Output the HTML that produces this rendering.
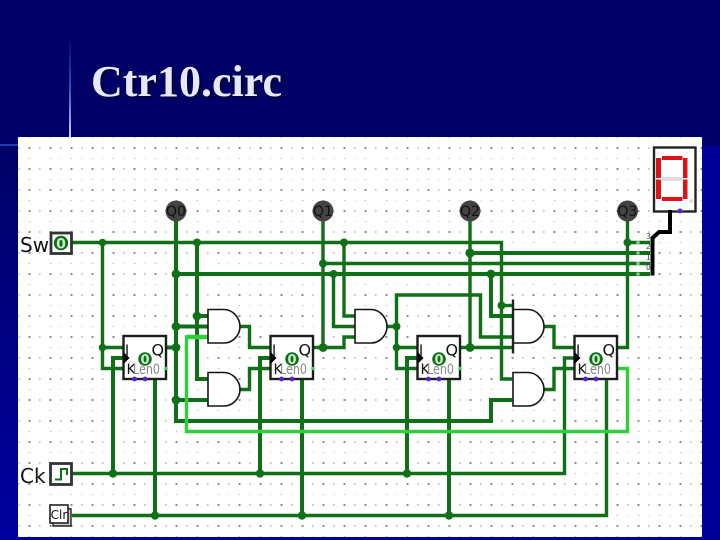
<!DOCTYPE html>
<html><head><meta charset="utf-8"><style>
html,body{margin:0;padding:0;width:720px;height:540px;overflow:hidden;background:#000066}
svg{display:block}
</style></head><body>
<svg width="720" height="540" viewBox="0 0 720 540" xmlns="http://www.w3.org/2000/svg">
<defs>
<linearGradient id="bg" x1="0" y1="0" x2="0" y2="1"><stop offset="0" stop-color="#000066"/><stop offset=".3" stop-color="#000068"/><stop offset="1" stop-color="#0000a0"/></linearGradient>
<linearGradient id="gv" x1="0" y1="0" x2="0" y2="1"><stop offset="0" stop-color="#000066"/><stop offset=".5" stop-color="#2a4cc0"/><stop offset="1" stop-color="#c8d4f4"/></linearGradient>
<pattern id="grid" x="18.5" y="137" width="21" height="21" patternUnits="userSpaceOnUse">
<rect x="10" y="10" width="2" height="2" fill="#8c8c8c"/>
<rect x="0" y="10.2" width="1" height="1.6" fill="#b8b8b8"/>
<rect x="20.500" y="10.2" width=".5" height="1.6" fill="#b8b8b8"/>
<rect x="10.2" y="0" width="1.6" height="1" fill="#bcbcbc"/>
<rect x="0" y="0" width="1" height="1" fill="#d4d4d4"/>
</pattern>
<filter id="sh" x="-10%" y="-20%" width="120%" height="150%"><feGaussianBlur stdDeviation="1.2"/></filter>
<g id="ff">
<rect x="0" y="0" width="42.5" height="43" fill="#fff" stroke="#1c1c1c" stroke-width="2.4"/>
<path d="M0 17L5 22L0 27" fill="#000" stroke="#000" stroke-width="1.5"/>
</g>
</defs>
<rect width="720" height="540" fill="url(#bg)"/>
<rect x="702" y="146" width="18" height="394" fill="#000098"/>
<rect x="69" y="35" width="2" height="102" fill="url(#gv)"/>
<rect x="0" y="144" width="18" height="2" fill="#1c3cb0"/>
<text x="93" y="98" font-family="'Liberation Serif',serif" font-weight="700" font-size="44" fill="#000030" filter="url(#sh)">Ctr10.circ</text>
<text x="91" y="96" font-family="'Liberation Serif',serif" font-weight="700" font-size="44" fill="#e8e8f4">Ctr10.circ</text>

<rect x="18" y="137" width="684" height="400" fill="#fff"/>
<rect x="18" y="137" width="684" height="400" fill="url(#grid)"/>

<!-- wires -->
<g fill="none" stroke="#107018" stroke-width="3.4" stroke-linejoin="miter">
<path d="M72 242.5H501.5V379H512"/>
<path d="M102.5 242.5V368.5H123.5M102.5 347.5H123.5"/>
<path d="M323 263.5H650"/>
<path d="M470 253H650" stroke-width="4"/>
<path d="M176 274H650" stroke-width="4"/>
<path d="M627.5 242.5H650"/>
<path d="M176 221V421H491V400H512" stroke-width="4"/>
<path d="M176 326.5H207.5M176 400H207.5M166 347.5H176" stroke-width="4"/>
<path d="M197 242.5V379H207.5M197 316H207.5" stroke-width="4"/>
<path d="M240 326.5H249.5V347.5H270.5"/>
<path d="M240 389.5H249.5V368.5H270.5"/>
<path d="M323 221V347.5H313M323 347.5H344V337H354.5"/>
<path d="M344 242.5V316H354.5"/>
<path d="M333.5 274V326.5H354.5"/>
<path d="M386 326.5H396.5V368.5H417.5M396.5 347.5H417.5"/>
<path d="M396.5 326.5V295H480.5V337H512"/>
<path d="M470 221V347.5H512M460 347.5H470"/>
<path d="M491 274V316H512" stroke-width="4"/>
<path d="M501.5 305.5H512"/>
<path d="M543.5 326.5H554V347.5H575"/>
<path d="M543.5 389.5H554V368.5H575"/>
<path d="M627.5 221V347.5H617"/>
<path d="M72 473.5H564.5V358H578"/>
<path d="M113 473.5V358H128" stroke-width="4"/>
<path d="M260 473.5V358H275" stroke-width="4"/>
<path d="M407 473.5V358H422" stroke-width="4"/>
<path d="M72 515.5H606.5V379"/>
<path d="M155 515.5V379" stroke-width="4"/>
<path d="M302 515.5V379" stroke-width="4"/>
<path d="M449 515.5V379" stroke-width="4"/>
</g>
<path d="M207.5 337H186.5V431.5H627.5V368.5H617" fill="none" stroke="#2fcf3c" stroke-width="3.4"/>
<path d="M186.5 337H207.5" fill="none" stroke="#2fcf3c" stroke-width="4.4"/>

<!-- junctions -->
<g fill="#107018">
<circle cx="102.5" cy="242.5" r="3.8"/><circle cx="197" cy="242.5" r="4"/><circle cx="344" cy="242.5" r="4"/><circle cx="627.5" cy="242.5" r="4"/>
<circle cx="470" cy="253" r="4.6"/><circle cx="323" cy="263.5" r="4"/><circle cx="176" cy="274" r="4.4"/><circle cx="333.5" cy="274" r="4"/><circle cx="491" cy="274" r="4.4"/>
<circle cx="501.5" cy="305.5" r="4"/><circle cx="197" cy="316" r="4.4"/><circle cx="176" cy="326.5" r="4.4"/><circle cx="396.5" cy="326.5" r="4"/>
<circle cx="102.5" cy="347.5" r="3.8"/><circle cx="176" cy="347.5" r="4.4"/><circle cx="323" cy="347.5" r="4.4"/><circle cx="396.5" cy="347.5" r="3.8"/><circle cx="470" cy="347.5" r="4.4"/>
<circle cx="176" cy="400" r="4.4"/>
<circle cx="113" cy="473.5" r="4.2"/><circle cx="260" cy="473.5" r="4.2"/><circle cx="407" cy="473.5" r="4.2"/>
<circle cx="155" cy="515.5" r="4.2"/><circle cx="302" cy="515.5" r="4.2"/><circle cx="449" cy="515.5" r="4.2"/>
</g>
<g fill="#7fcf86">
<circle cx="638" cy="242.500" r="1.800"/><circle cx="638" cy="253" r="1.800"/><circle cx="638" cy="263.500" r="1.800"/><circle cx="638" cy="274" r="1.800"/>
</g>

<!-- AND gates -->
<g fill="#fff" stroke="#151515" stroke-width="1.6">
<path d="M208 309.5H224C233 309.5 240 318 240 326.5C240 335 233 343 224 343H208Z"/>
<path d="M208 372.5H224C233 372.5 240 381 240 389.5C240 398 233 406 224 406H208Z"/>
<path d="M355 309.5H371C380 309.5 387 318 387 326.5C387 335 380 343 371 343H355Z"/>
<path d="M513 309.5H528C537 309.5 544 318 544 326.5C544 335 537 343 528 343H513Z"/>
<path d="M513 372.5H528C537 372.5 544 381 544 389.5C544 398 537 406 528 406H513Z"/>
</g>
<path d="M513 299.5V353.5" stroke="#222" stroke-width="2.4"/>

<!-- Flip flops -->
<g font-family="'DejaVu Sans','Liberation Sans',sans-serif">
<g transform="translate(123.5,336)"><use href="#ff"/><text x="1.500" y="19" font-size="14" fill="#111">J</text><text x="28" y="19.500" font-size="16" fill="#111">Q</text><text x="3" y="38" font-size="14" fill="#111">K</text><text x="9.500" y="38" font-size="14.500" fill="#888" textLength="27" lengthAdjust="spacingAndGlyphs">Len0</text><circle cx="21.500" cy="23" r="6.800" fill="#107018"/><text x="21.500" y="28" font-size="13" font-weight="700" text-anchor="middle" fill="#c8ecc8">0</text><circle cx="11" cy="43" r="2.400" fill="#5a22d0"/><circle cx="21.500" cy="43" r="2.400" fill="#5a22d0"/><circle cx="42.500" cy="32.500" r="1.800" fill="#40d050"/></g>
<g transform="translate(270.5,336)"><use href="#ff"/><text x="1.500" y="19" font-size="14" fill="#111">J</text><text x="28" y="19.500" font-size="16" fill="#111">Q</text><text x="3" y="38" font-size="14" fill="#111">K</text><text x="9.500" y="38" font-size="14.500" fill="#888" textLength="27" lengthAdjust="spacingAndGlyphs">Len0</text><circle cx="21.500" cy="23" r="6.800" fill="#107018"/><text x="21.500" y="28" font-size="13" font-weight="700" text-anchor="middle" fill="#c8ecc8">0</text><circle cx="11" cy="43" r="2.400" fill="#5a22d0"/><circle cx="21.500" cy="43" r="2.400" fill="#5a22d0"/><circle cx="42.500" cy="32.500" r="1.800" fill="#40d050"/></g>
<g transform="translate(417.5,336)"><use href="#ff"/><text x="1.500" y="19" font-size="14" fill="#111">J</text><text x="28" y="19.500" font-size="16" fill="#111">Q</text><text x="3" y="38" font-size="14" fill="#111">K</text><text x="9.500" y="38" font-size="14.500" fill="#888" textLength="27" lengthAdjust="spacingAndGlyphs">Len0</text><circle cx="21.500" cy="23" r="6.800" fill="#107018"/><text x="21.500" y="28" font-size="13" font-weight="700" text-anchor="middle" fill="#c8ecc8">0</text><circle cx="11" cy="43" r="2.400" fill="#5a22d0"/><circle cx="21.500" cy="43" r="2.400" fill="#5a22d0"/><circle cx="42.500" cy="32.500" r="1.800" fill="#40d050"/></g>
<g transform="translate(574.5,336)"><use href="#ff"/><text x="1.500" y="19" font-size="14" fill="#111">J</text><text x="28" y="19.500" font-size="16" fill="#111">Q</text><text x="3" y="38" font-size="14" fill="#111">K</text><text x="9.500" y="38" font-size="14.500" fill="#888" textLength="27" lengthAdjust="spacingAndGlyphs">Len0</text><circle cx="21.500" cy="23" r="6.800" fill="#107018"/><text x="21.500" y="28" font-size="13" font-weight="700" text-anchor="middle" fill="#c8ecc8">0</text><circle cx="11" cy="43" r="2.400" fill="#5a22d0"/><circle cx="21.500" cy="43" r="2.400" fill="#5a22d0"/></g>

<!-- output LEDs -->
<g text-anchor="middle" font-size="14" fill="#111">
<circle cx="176" cy="211" r="10.5" fill="#444"/><text x="176" y="216">Q0</text>
<circle cx="323" cy="211" r="10.500" fill="#444"/><text x="323" y="216">Q1</text>
<circle cx="470" cy="211" r="10.500" fill="#444"/><text x="470" y="216">Q2</text>
<circle cx="627.500" cy="211" r="10.500" fill="#444"/><text x="627.500" y="216">Q3</text>
</g>

<!-- inputs -->
<text x="20" y="252" font-size="20" fill="#111">Sw</text>
<rect x="51" y="233" width="20.500" height="20.500" fill="#fff" stroke="#333" stroke-width="2.800"/>
<circle cx="61" cy="243" r="7.200" fill="#107018"/><text x="61" y="248.500" font-size="14" font-weight="700" text-anchor="middle" fill="#c8ecc8">0</text>
<text x="20" y="483" font-size="20" fill="#111">Ck</text>
<rect x="50.500" y="463.500" width="21" height="21" fill="#fff" stroke="#333" stroke-width="2.800"/>
<path d="M55 479.500H61V469H67V475" fill="none" stroke="#107018" stroke-width="2"/>
<path d="M53 506L53 526H71V509Z" fill="#ccc" stroke="#222" stroke-width="1.400"/>
<rect x="50" y="505" width="18" height="18" fill="#fff" stroke="#222" stroke-width="1.600"/>
<text x="59" y="519" font-size="12" text-anchor="middle" fill="#111">Clr</text>

<!-- 7-seg -->
<rect x="654" y="147.500" width="41.500" height="64" fill="#fff" stroke="#222" stroke-width="2.400"/>
<g fill="#dc1414">
<rect x="662" y="156" width="20.500" height="4"/><rect x="662" y="197" width="20.500" height="4"/>
<rect x="656" y="158" width="5" height="20"/><rect x="656" y="179.500" width="5" height="19.500"/>
<rect x="683" y="158" width="4.500" height="20"/><rect x="683" y="179.500" width="4.500" height="19.500"/>
</g>
<rect x="662" y="177" width="20.500" height="4" fill="#dddddd"/>
<circle cx="691" cy="201" r="2" fill="#dddddd"/>
<circle cx="680" cy="211" r="2.500" fill="#5a22d0"/>

<!-- splitter -->
<path d="M670 210V232H659L652.500 238V275.500" fill="none" stroke="#000" stroke-width="4"/>
<g font-size="7.500" fill="#444"><text x="646" y="239">3</text><text x="646" y="249">2</text><text x="646" y="260">1</text><text x="646" y="270">0</text></g>
</g>
</svg>
</body></html>
